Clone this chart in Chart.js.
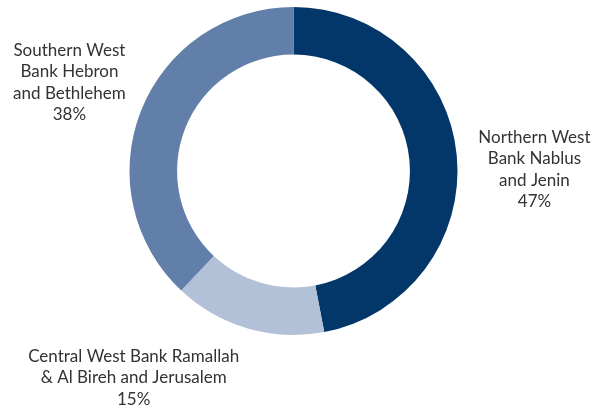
<!DOCTYPE html>
<html>
<head>
<meta charset="utf-8">
<script src="https://cdn.jsdelivr.net/npm/chart.js@4"></script>
<style>
  html, body { margin: 0; padding: 0; background: #fff; }
  #wrap { width: 591px; height: 409px; }
</style>
</head>
<body>
<div id="wrap"><canvas id="chart" width="591" height="409"></canvas></div>
<script>
// Distribución por región (Cisjordania)
var regions = [
  ['Northern West', 'Bank Nablus', 'and Jenin'],
  ['Central West Bank Ramallah', '& Al Bireh and Jerusalem'],
  ['Southern West', 'Bank Hebron', 'and Bethlehem']
];
var shares = [47, 15, 38];
var colors = ['#033769', '#b3c1d8', '#617fa8'];

// etiquetas fuera del anillo, ancladas al ángulo medio de cada arco
var outerLabels = {
  id: 'outerLabels',
  afterDatasetsDraw: function(chart) {
    var ctx = chart.ctx;
    var meta = chart.getDatasetMeta(0);
    var gap = [73, 97, 77];       // distancia radial extra por etiqueta
    var shift = [[5, 21], [-87, -44], [0, 0]];
    ctx.save();
    ctx.font = '17px Lato, "DejaVu Sans", sans-serif';
    ctx.fillStyle = '#333333';
    ctx.textAlign = 'center';
    ctx.textBaseline = 'middle';
    meta.data.forEach(function(arc, i) {
      var mid = (arc.startAngle + arc.endAngle) / 2;
      var r = arc.outerRadius + gap[i];
      var lines = regions[i].concat([shares[i] + '%']);
      var lh = 21.5;
      var cx = arc.x + Math.cos(mid) * r + shift[i][0];
      var cy = arc.y + Math.sin(mid) * r + shift[i][1];
      var y0 = cy - (lines.length - 1) * lh / 2;
      lines.forEach(function(t, k) { ctx.fillText(t, cx, y0 + k * lh); });
    });
    ctx.restore();
  }
};

new Chart(document.getElementById('chart').getContext('2d'), {
  type: 'doughnut',
  data: {
    labels: regions.map(function(r) { return r.join(' '); }),
    datasets: [{
      data: shares,
      backgroundColor: colors,
      borderWidth: 0
    }]
  },
  options: {
    responsive: false,
    animation: false,
    cutout: '71%',
    layout: { padding: { top: 7, bottom: 74, left: 0, right: 4 } },
    plugins: { legend: { display: false }, tooltip: { enabled: false } }
  },
  plugins: [outerLabels]
});
</script>
</body>
</html>
